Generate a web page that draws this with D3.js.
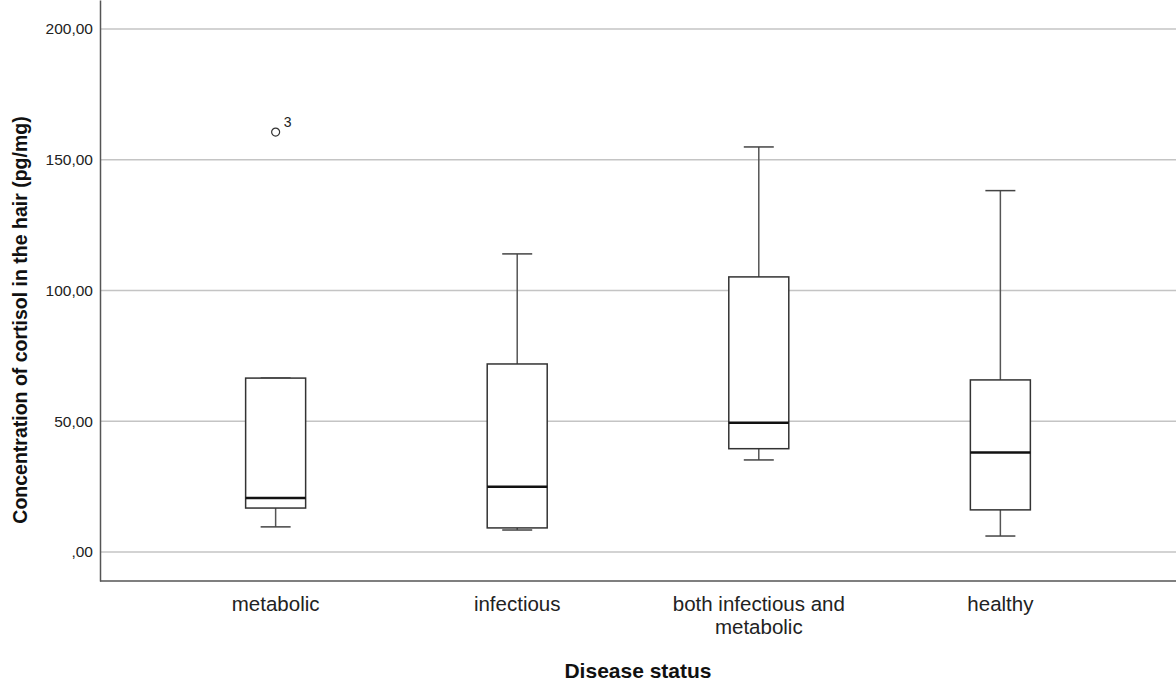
<!DOCTYPE html>
<html lang="en">
<head>
	<meta charset="UTF-8">
	<title>cortisol boxplot</title>
	<style>
		body { margin: 0; background: #fff; }
		text { font-family: "Liberation Sans", Arial, sans-serif; }
	</style>
</head>
<body>
	<svg id="cont" width="1176" height="685"></svg>
<script src="https://cdn.jsdelivr.net/npm/d3@7"></script>
<script>
	// disease status groups
	let categories = ["metabolic", "infectious", "both infectious and metabolic", "healthy"];
	let labelLines = [["metabolic"], ["infectious"], ["both infectious and", "metabolic"], ["healthy"]];
	// box stats (pg/mg)
	let whiskLow = [9.6, 8.4, 35.2, 6.1];
	let q1 = [16.8, 9.2, 39.5, 16.1];
	let median = [20.6, 24.9, 49.4, 38.0];
	let q3 = [66.5, 71.9, 105.2, 65.8];
	let whiskHigh = [66.5, 114.0, 154.9, 138.2];
	// outliers: group, value, case number
	let outliers = [{ group: "metabolic", value: 160.6, id: "3" }];
	let yTicks = [0, 50, 100, 150, 200];

	let svg = d3.select("#cont");
	let mLeft = 100, mRight = 1176, mTop = 0, mBottom = 581;

	let y = d3.scaleLinear()
		.domain([-11.1, 211.1])
		.range([mBottom, mTop]);

	let x = d3.scalePoint()
		.domain(categories)
		.range([mLeft, mRight])
		.padding(0.727);

	let fmt = d => d3.format(".2f")(d).replace(".", ",").replace(/^0,/, ",");

	// gridlines
	svg.append("g")
		.selectAll("line")
		.data(yTicks)
		.join("line")
		.attr("x1", mLeft)
		.attr("x2", mRight)
		.attr("y1", d => y(d))
		.attr("y2", d => y(d))
		.attr("stroke", "#c4c4c4")
		.attr("stroke-width", 1.5);

	// y axis
	let yaxis = d3.axisLeft(y)
		.tickValues(yTicks)
		.tickSize(0)
		.tickPadding(7)
		.tickFormat(fmt);
	let yg = svg.append("g")
		.attr("transform", `translate(${mLeft},0)`)
		.call(yaxis);
	yg.select(".domain").attr("stroke", "#555").attr("stroke-width", 1.5);
	yg.selectAll("text").attr("font-size", 15.5).attr("fill", "#222")
		.attr("font-family", "Liberation Sans, Arial, sans-serif");

	// x axis line
	svg.append("line")
		.attr("x1", mLeft)
		.attr("x2", mRight)
		.attr("y1", mBottom)
		.attr("y2", mBottom)
		.attr("stroke", "#555")
		.attr("stroke-width", 1.5);

	// x labels
	let xl = svg.append("g")
		.selectAll("text")
		.data(categories)
		.join("text")
		.attr("text-anchor", "middle")
		.attr("font-size", 20.5)
		.attr("fill", "#222")
		.attr("transform", d => `translate(${x(d)},611)`);
	xl.selectAll("tspan")
		.data((d, i) => labelLines[i])
		.join("tspan")
		.attr("x", 0)
		.attr("dy", (d, i) => i == 0 ? 0 : 23)
		.text(d => d);

	// axis titles
	svg.append("text")
		.attr("x", (mLeft + mRight) / 2)
		.attr("y", 678)
		.attr("text-anchor", "middle")
		.attr("font-size", 21)
		.attr("font-weight", "bold")
		.attr("fill", "#111")
		.text("Disease status");

	svg.append("text")
		.attr("transform", "translate(27,320) rotate(-90)")
		.attr("text-anchor", "middle")
		.attr("font-size", 19.5)
		.attr("font-weight", "bold")
		.attr("fill", "#111")
		.text("Concentration of cortisol in the hair (pg/mg)");

	// boxes
	let boxW = 60, capW = 30;
	let groups = svg.append("g")
		.selectAll("g")
		.data(categories)
		.join("g")
		.attr("transform", d => `translate(${x(d)},0)`);

	groups.append("line")
		.attr("x1", 0).attr("x2", 0)
		.attr("y1", (d, i) => y(whiskHigh[i]))
		.attr("y2", (d, i) => y(q3[i]))
		.attr("stroke", "#555").attr("stroke-width", 1.5);
	groups.append("line")
		.attr("x1", 0).attr("x2", 0)
		.attr("y1", (d, i) => y(q1[i]))
		.attr("y2", (d, i) => y(whiskLow[i]))
		.attr("stroke", "#555").attr("stroke-width", 1.5);
	groups.append("line")
		.attr("x1", -capW / 2).attr("x2", capW / 2)
		.attr("y1", (d, i) => y(whiskHigh[i]))
		.attr("y2", (d, i) => y(whiskHigh[i]))
		.attr("stroke", "#444").attr("stroke-width", 1.5);
	groups.append("line")
		.attr("x1", -capW / 2).attr("x2", capW / 2)
		.attr("y1", (d, i) => y(whiskLow[i]))
		.attr("y2", (d, i) => y(whiskLow[i]))
		.attr("stroke", "#444").attr("stroke-width", 1.5);
	groups.append("rect")
		.attr("x", -boxW / 2)
		.attr("width", boxW)
		.attr("y", (d, i) => y(q3[i]))
		.attr("height", (d, i) => y(q1[i]) - y(q3[i]))
		.attr("fill", "#fff")
		.attr("stroke", "#333")
		.attr("stroke-width", 1.5);
	groups.append("line")
		.attr("x1", -boxW / 2).attr("x2", boxW / 2)
		.attr("y1", (d, i) => y(median[i]))
		.attr("y2", (d, i) => y(median[i]))
		.attr("stroke", "#111").attr("stroke-width", 2.5);

	// outliers
	let og = svg.append("g")
		.selectAll("g")
		.data(outliers)
		.join("g")
		.attr("transform", d => `translate(${x(d.group)},${y(d.value)})`);
	og.append("circle")
		.attr("r", 4)
		.attr("fill", "none")
		.attr("stroke", "#333")
		.attr("stroke-width", 1.2);
	og.append("text")
		.attr("x", 8)
		.attr("y", -5)
		.attr("font-size", 14)
		.attr("fill", "#222")
		.text(d => d.id);
</script>
</body>
</html>
